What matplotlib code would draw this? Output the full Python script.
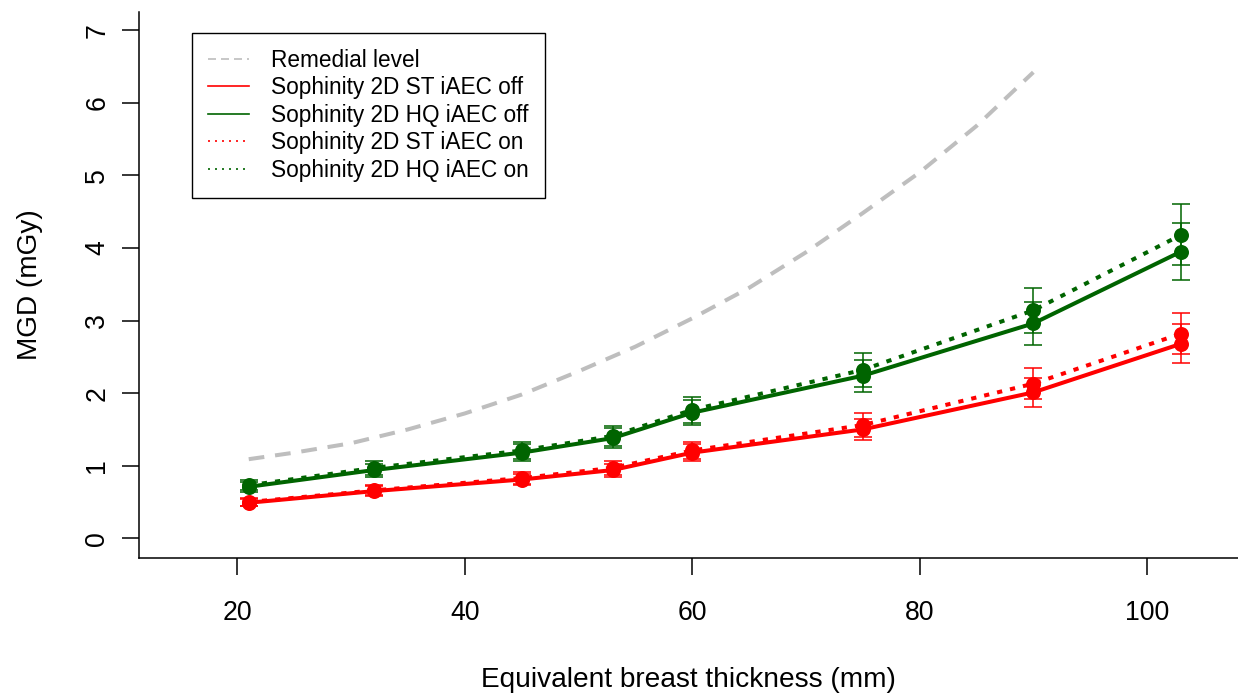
import matplotlib
matplotlib.use("Agg")
import matplotlib.pyplot as plt
from matplotlib.lines import Line2D

plt.rcParams['font.family'] = ['Liberation Sans', 'DejaVu Sans']

# Equivalent breast thickness (mm) at which the dose was measured
thickness = [21, 32, 45, 53, 60, 75, 90, 103]

# Mean glandular dose (mGy) and error bars
st_off = [0.49, 0.65, 0.81, 0.94, 1.18, 1.50, 2.01, 2.68]
st_off_err = [0.05, 0.07, 0.08, 0.09, 0.12, 0.15, 0.20, 0.27]
st_on = [0.50, 0.66, 0.83, 0.97, 1.21, 1.56, 2.13, 2.82]
st_on_err = [0.05, 0.07, 0.08, 0.10, 0.12, 0.16, 0.21, 0.28]
hq_off = [0.71, 0.94, 1.18, 1.38, 1.73, 2.24, 2.96, 3.95]
hq_off_err = [0.07, 0.09, 0.12, 0.14, 0.17, 0.22, 0.30, 0.39]
hq_on = [0.73, 0.97, 1.21, 1.41, 1.77, 2.32, 3.14, 4.18]
hq_on_err = [0.07, 0.10, 0.12, 0.14, 0.18, 0.23, 0.31, 0.42]

# Remedial dose level curve
remedial_thickness = [21, 25, 30, 35, 40, 45, 50, 55, 60, 65, 70, 75, 80, 85, 90]
remedial_mgd = [1.09, 1.18, 1.31, 1.50, 1.72, 1.98, 2.30, 2.64, 3.03, 3.45,
                3.94, 4.48, 5.04, 5.68, 6.42]

legend_labels = ["Remedial level", "Sophinity 2D ST iAEC off",
                 "Sophinity 2D HQ iAEC off", "Sophinity 2D ST iAEC on",
                 "Sophinity 2D HQ iAEC on"]

x_ticks = [20, 40, 60, 80, 100]
y_ticks = [0, 1, 2, 3, 4, 5, 6, 7]

RED = "#FF0000"
GREEN = "#006400"
GREY = "#BEBEBE"
DOTTED = (0, (1.3, 2.0))

W, H = 1238, 693
fig = plt.figure(figsize=(W / 100, H / 100), dpi=100)
ax = fig.add_axes([139 / W, (H - 557.7) / H, (W - 139) / W, (557.7 - 12) / H])

ax.plot(remedial_thickness, remedial_mgd, color=GREY, lw=2.9,
        ls=(0, (3.9, 2.7)), zorder=1)

series = [
    (st_off, st_off_err, RED, '-'),
    (hq_off, hq_off_err, GREEN, '-'),
    (st_on, st_on_err, RED, DOTTED),
    (hq_on, hq_on_err, GREEN, DOTTED),
]
for vals, errs, col, ls in series:
    ax.errorbar(thickness, vals, yerr=errs, fmt='none', ecolor=col,
                elinewidth=1.1, capsize=6.4, capthick=1.1, zorder=2)
    ax.plot(thickness, vals, color=col, lw=2.9, ls=ls, marker='o', ms=10.8,
            markeredgewidth=0, zorder=3)

ax.set_xlim(11.35, 108.0)
ax.set_ylim(-0.267, 7.25)
ax.set_xticks(x_ticks)
ax.set_yticks(y_ticks)
ax.set_xticklabels([str(v) for v in x_ticks])
ax.set_yticklabels([str(v) for v in y_ticks])

for side in ("top", "right"):
    ax.spines[side].set_visible(False)
for side in ("left", "bottom"):
    ax.spines[side].set_linewidth(1.1)

ax.tick_params(axis='both', direction='out', length=12.2, width=1.1,
               labelsize=19.2, colors='black')
ax.tick_params(axis='x', pad=18)
ax.tick_params(axis='y', pad=8.5)
plt.setp(ax.get_yticklabels(), rotation=90, va='center', ha='right')

fig.text(688 / W, (H - 687) / H, "Equivalent breast thickness (mm)",
         ha='center', va='baseline', fontsize=20.2)
fig.text(37 / W, (H - 285) / H, "MGD (mGy)", rotation=90,
         rotation_mode='anchor', ha='center', va='baseline', fontsize=20.2)

handles = [
    Line2D([], [], color=GREY, lw=1.2, ls=(0, (4.8, 3.0))),
    Line2D([], [], color=RED, lw=1.2),
    Line2D([], [], color=GREEN, lw=1.2),
    Line2D([], [], color=RED, lw=1.2, ls=(0, (1.2, 3.0))),
    Line2D([], [], color=GREEN, lw=1.2, ls=(0, (1.2, 3.0))),
]
leg = fig.legend(handles, legend_labels, loc='upper left',
                 bbox_to_anchor=(192 / W, 1 - 32.7 / H),
                 bbox_transform=fig.transFigure, borderaxespad=0,
                 fontsize=16.3, handlelength=1.81, handletextpad=1.0,
                 borderpad=0.7, labelspacing=0.2, fancybox=False,
                 framealpha=1, edgecolor='black')
leg.get_frame().set_linewidth(1.0)

fig.savefig("out.png", dpi=100, facecolor='white')
